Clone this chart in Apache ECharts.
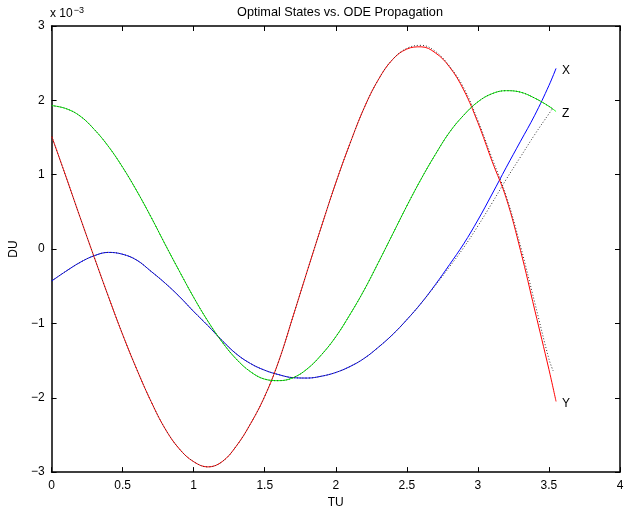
<!DOCTYPE html>
<html>
<head>
<meta charset="utf-8">
<script src="https://cdn.jsdelivr.net/npm/echarts@6/dist/echarts.min.js"></script>
<style>
  html, body { margin: 0; padding: 0; background: #fff; }
  #chart { width: 632px; height: 514px; }
</style>
</head>
<body>
<div id="chart"></div>
<script>
// time (TU) samples
var tu = [0, 0.1, 0.2, 0.3, 0.4, 0.5, 0.6, 0.7, 0.8, 0.9, 1.0, 1.1, 1.2, 1.3, 1.4, 1.5, 1.6, 1.7, 1.8,
          1.9, 2.0, 2.1, 2.2, 2.3, 2.4, 2.5, 2.6, 2.7, 2.8, 2.9, 3.0, 3.1, 3.2, 3.3, 3.4, 3.5, 3.55];
var tuOde = [0, 0.1, 0.2, 0.3, 0.4, 0.5, 0.6, 0.7, 0.8, 0.9, 1.0, 1.1, 1.2, 1.3, 1.4, 1.5, 1.6, 1.7, 1.8,
          1.9, 2.0, 2.1, 2.2, 2.3, 2.4, 2.5, 2.6, 2.7, 2.8, 2.9, 3.0, 3.1, 3.2, 3.3, 3.4, 3.5, 3.53];

// optimal states (x 10^-3 DU)
var xOpt = [-0.43, -0.30, -0.18, -0.09, -0.045, -0.07, -0.15, -0.30, -0.46, -0.64, -0.84, -1.03, -1.23, -1.41,
            -1.54, -1.63, -1.69, -1.73, -1.735, -1.71, -1.66, -1.58, -1.47, -1.32, -1.15, -0.95, -0.73,
            -0.48, -0.21, 0.07, 0.39, 0.74, 1.10, 1.45, 1.80, 2.20, 2.43];
var yOpt = [1.52, 0.98, 0.43, -0.11, -0.64, -1.15, -1.62, -2.05, -2.42, -2.69, -2.86, -2.93, -2.86, -2.65,
            -2.35, -1.98, -1.50, -0.90, -0.29, 0.31, 0.89, 1.42, 1.90, 2.28, 2.55, 2.69, 2.72, 2.64,
            2.45, 2.14, 1.70, 1.18, 0.68, -0.02, -0.82, -1.62, -2.05];
var zOpt = [1.93, 1.89, 1.79, 1.61, 1.38, 1.10, 0.78, 0.43, 0.06, -0.30, -0.65, -0.97, -1.25, -1.48,
            -1.65, -1.75, -1.77, -1.73, -1.61, -1.42, -1.18, -0.88, -0.55, -0.18, 0.20, 0.58, 0.94,
            1.27, 1.57, 1.80, 1.98, 2.09, 2.13, 2.11, 2.03, 1.92, 1.85];

// ODE propagation (dotted)
var xOde = [-0.43, -0.30, -0.18, -0.09, -0.045, -0.07, -0.15, -0.30, -0.46, -0.64, -0.84, -1.03, -1.23, -1.41,
            -1.54, -1.63, -1.69, -1.73, -1.735, -1.71, -1.66, -1.58, -1.47, -1.32, -1.15, -0.95, -0.73,
            -0.49, -0.24, 0.02, 0.31, 0.62, 0.94, 1.24, 1.54, 1.82, 1.90];
var yOde = [1.52, 0.98, 0.43, -0.11, -0.64, -1.15, -1.62, -2.05, -2.42, -2.69, -2.86, -2.93, -2.86, -2.65,
            -2.35, -1.98, -1.50, -0.90, -0.29, 0.31, 0.89, 1.42, 1.90, 2.28, 2.55, 2.70, 2.74, 2.66,
            2.46, 2.17, 1.73, 1.22, 0.71, 0.04, -0.72, -1.48, -1.64];
var zOde = [1.93, 1.89, 1.79, 1.61, 1.38, 1.10, 0.78, 0.43, 0.06, -0.30, -0.65, -0.97, -1.25, -1.48,
            -1.65, -1.75, -1.77, -1.73, -1.61, -1.42, -1.18, -0.88, -0.55, -0.18, 0.20, 0.58, 0.94,
            1.27, 1.57, 1.80, 1.98, 2.09, 2.13, 2.11, 2.03, 1.92, 1.88];

var xTicks = [0, 0.5, 1, 1.5, 2, 2.5, 3, 3.5, 4];
var yTicks = [-3, -2, -1, 0, 1, 2, 3];

function pairs(t, v) {
    return t.map(function(x, i) { return [x, v[i]]; });
}

var font = 'Liberation Sans, Arial, sans-serif';

function solid(name, t, v, color) {
    return {
        name: name, type: 'line', data: pairs(t, v), smooth: 0.4,
        symbol: 'none', animation: false,
        lineStyle: { color: color, width: 1 },
        endLabel: { show: true, formatter: name, color: '#000', fontSize: 12, fontFamily: font,
                    distance: 6, offset: [0, 2] },
        z: 2
    };
}

function dotted(t, v) {
    return {
        type: 'line', data: pairs(t, v), smooth: 0.4,
        symbol: 'none', animation: false,
        lineStyle: { color: '#333', width: 1, type: [1, 2] },
        z: 3
    };
}

var chart = echarts.init(document.getElementById('chart'));

var axisBase = {
    type: 'value',
    axisLine: { show: true, onZero: false, lineStyle: { color: '#000', width: 1.5 } },
    axisTick: { show: true, inside: true, length: 5, lineStyle: { color: '#000' } },
    splitLine: { show: false }
};

option = {
    backgroundColor: '#fff',
    animation: false,
    title: {
        text: 'Optimal States vs. ODE Propagation',
        left: 335, top: 1, textAlign: 'center',
        textStyle: { fontSize: 12.7, fontWeight: 'normal', color: '#000', fontFamily: font }
    },
    graphic: [{
        type: 'text', left: 50, top: 6,
        style: {
            text: '{b|x 10}{s|−3}',
            rich: {
                b: { fontSize: 12, fill: '#000', fontFamily: font },
                s: { fontSize: 9, fill: '#000', fontFamily: font, verticalAlign: 'top', padding: [0, 0, 6, 1] }
            }
        }
    }],
    grid: { left: 51, right: 12, top: 26, bottom: 36 },
    xAxis: [
        Object.assign({}, axisBase, {
            min: 0, max: 4, interval: 0.5, position: 'bottom',
            name: 'TU', nameLocation: 'middle', nameGap: 22,
            nameTextStyle: { color: '#000', fontSize: 12, fontFamily: font },
            axisLabel: { color: '#000', fontSize: 12, fontFamily: font, margin: 8,
                formatter: function(v) { return xTicks.indexOf(v) >= 0 ? String(v) : ''; } }
        }),
        Object.assign({}, axisBase, {
            min: 0, max: 4, interval: 0.5, position: 'top', axisLabel: { show: false }
        })
    ],
    yAxis: [
        Object.assign({}, axisBase, {
            min: -3, max: 3, interval: 1, position: 'left',
            name: 'DU', nameLocation: 'middle', nameGap: 28,
            nameTextStyle: { color: '#000', fontSize: 12, fontFamily: font },
            axisLabel: { color: '#000', fontSize: 12, fontFamily: font, margin: 7,
                formatter: function(v) { return yTicks.indexOf(v) >= 0 ? String(v).replace('-', '−') : ''; } }
        }),
        Object.assign({}, axisBase, {
            min: -3, max: 3, interval: 1, position: 'right', axisLabel: { show: false }
        })
    ],
    series: [
        solid('X', tu, xOpt, '#0000ff'),
        solid('Y', tu, yOpt, '#ff0000'),
        solid('Z', tu, zOpt, '#00ff00'),
        dotted(tuOde, xOde),
        dotted(tuOde, yOde),
        dotted(tuOde, zOde)
    ]
};
chart.setOption(option);
</script>
</body>
</html>
